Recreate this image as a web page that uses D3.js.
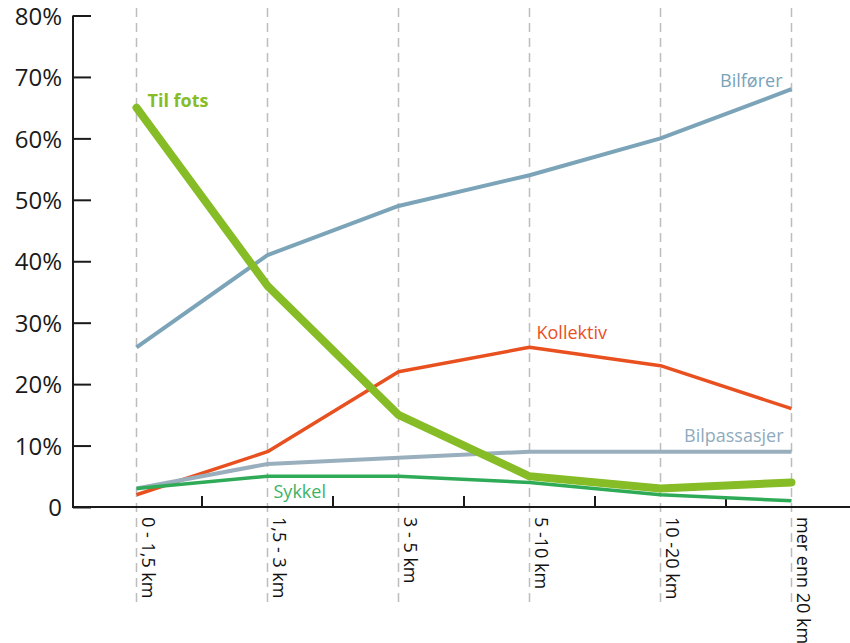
<!DOCTYPE html>
<html>
<head>
<meta charset="utf-8">
<script src="https://cdn.jsdelivr.net/npm/d3@7"></script>
<style>
  html, body { margin: 0; padding: 0; background: #fff; }
  svg { display: block; font-family: "Open Sans", "Noto Sans", sans-serif; }
</style>
</head>
<body>
<svg id="chart" width="850" height="643"></svg>
<script>
// Reisemiddel etter reiselengde (andel av reiser, %)
const categories = ["0 - 1,5 km", "1,5 - 3 km", "3 - 5 km", "5 -10 km", "10 -20 km", "mer enn 20 km"];
const yTicks = [0, 10, 20, 30, 40, 50, 60, 70, 80];

const kollektiv    = [2, 9, 22, 26, 23, 16];
const bilpassasjer = [3, 7, 8, 9, 9, 9];
const sykkel       = [3, 5, 5, 4, 2, 1];
const bilforer     = [26, 41, 49, 54, 60, 68];
const tilFots      = [65, 36, 15, 5, 3, 4];

const seriesList = [
  { name: "Kollektiv",    values: kollektiv,    color: "#e9501f", width: 3.5, label: { anchor: "start", dx: 7,  dy: -8,  at: 3 }, labelColor: "#e9501f" },
  { name: "Bilpassasjer", values: bilpassasjer, color: "#9aafbd", width: 4,   label: { anchor: "end",   dx: -8, dy: -10, at: 5 }, labelColor: "#8fabbd" },
  { name: "Sykkel",       values: sykkel,       color: "#2fab58", width: 3.5, label: { anchor: "start", dx: 6,  dy: 22,  at: 1 }, labelColor: "#3db265" },
  { name: "Bilfører",     values: bilforer,     color: "#7ca4b8", width: 4,   label: { anchor: "end",   dx: -9, dy: -2,  at: 5 }, labelColor: "#79a3b9" },
  { name: "Til fots",     values: tilFots,      color: "#86bc25", width: 8,   label: { anchor: "start", dx: 11, dy: -1,  at: 0 }, labelColor: "#86bc25", bold: true }
];

const svg = d3.select("#chart");

const x = d3.scalePoint().domain(categories).range([136.5, 791.5]);
const step = x.step();
const y = d3.scaleLinear().domain([0, 80]).range([507, 15.5]);

// vertical dashed guides at each category
svg.append("g").selectAll("line")
  .data(categories)
  .join("line")
  .attr("x1", d => x(d)).attr("x2", d => x(d))
  .attr("y1", 8).attr("y2", 605)
  .attr("stroke", "#bdbdbd")
  .attr("stroke-width", 1.5)
  .attr("stroke-dasharray", "9,6");

// y axis
const yAxis = d3.axisLeft(y)
  .tickValues(yTicks)
  .tickSize(-18)
  .tickPadding(10)
  .tickFormat(d => d === 0 ? "0" : d + "%");
const yg = svg.append("g").attr("transform", "translate(73,0)").call(yAxis);
yg.select(".domain").attr("stroke", "#1a1a1a").attr("stroke-width", 2).attr("d", `M0,${y(80)}V${y(0)}`);
yg.selectAll(".tick line").attr("stroke", "#1a1a1a").attr("stroke-width", 2);
yg.selectAll(".tick text")
  .attr("x", -11)
  .attr("dy", "0.36em")
  .attr("font-size", 24)
  .attr("fill", "#1a1a1a")
  .attr("font-family", "'Open Sans', sans-serif");

// x axis baseline with small ticks between categories
svg.append("line")
  .attr("x1", 72).attr("x2", 850)
  .attr("y1", y(0)).attr("y2", y(0))
  .attr("stroke", "#1a1a1a").attr("stroke-width", 2);
svg.append("g").selectAll("line")
  .data(categories.slice(0, -1))
  .join("line")
  .attr("x1", d => x(d) + step / 2).attr("x2", d => x(d) + step / 2)
  .attr("y1", y(0) - 11).attr("y2", y(0))
  .attr("stroke", "#1a1a1a").attr("stroke-width", 2);

// rotated category labels
svg.append("g").selectAll("text")
  .data(categories)
  .join("text")
  .attr("transform", d => `translate(${x(d) + 10},${y(0) + 10}) rotate(90)`)
  .attr("font-size", 18)
  .attr("fill", "#111")
  .attr("dominant-baseline", "middle")
  .text(d => d);

// series lines
const line = d3.line()
  .x((d, i) => x(categories[i]))
  .y(d => y(d));

svg.append("g").selectAll("path")
  .data(seriesList)
  .join("path")
  .attr("d", s => line(s.values))
  .attr("fill", "none")
  .attr("stroke", s => s.color)
  .attr("stroke-width", s => s.width)
  .attr("stroke-linejoin", "round")
  .attr("stroke-linecap", s => s.width > 5 ? "round" : "butt");

// series labels
svg.append("g").selectAll("text")
  .data(seriesList)
  .join("text")
  .attr("x", s => x(categories[s.label.at]) + s.label.dx)
  .attr("y", s => y(s.values[s.label.at]) + s.label.dy)
  .attr("text-anchor", s => s.label.anchor)
  .attr("font-size", 18)
  .attr("font-weight", s => s.bold ? 700 : 400)
  .attr("fill", s => s.labelColor)
  .text(s => s.name);
</script>
</body>
</html>
